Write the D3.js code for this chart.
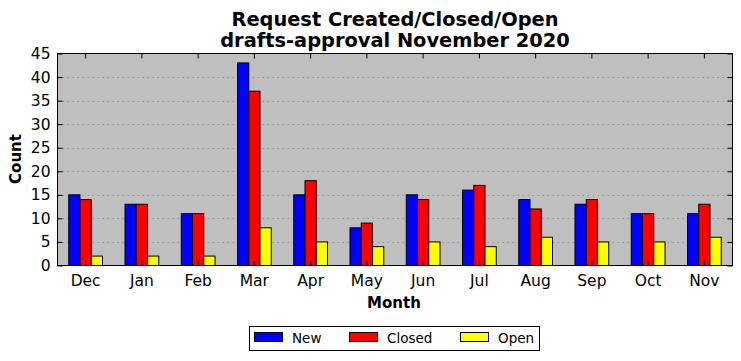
<!DOCTYPE html>
<html><head><meta charset="utf-8">
<script src="https://cdn.jsdelivr.net/npm/d3@7"></script>
<style>body{margin:0;background:#fff}svg{display:block}text{font-family:"DejaVu Sans",sans-serif}</style>
</head><body>
<svg id="c" width="741" height="361"></svg>
<script>
const months = ["Dec","Jan","Feb","Mar","Apr","May","Jun","Jul","Aug","Sep","Oct","Nov"];
const newVals = [15,13,11,43,15,8,15,16,14,13,11,11];
const closedVals = [14,13,11,37,18,9,14,17,12,14,11,13];
const openVals = [2,2,2,8,5,4,5,4,6,5,5,6];
const seriesNames = ["New","Closed","Open"];
const seriesColors = ["#0000ff","#ff0000","#ffff00"];
const yTicks = [0,5,10,15,20,25,30,35,40,45];

const svg = d3.select("#c");
const L = 57.5, R = 732.5, T = 53.5, B = 265.5;
const x = d3.scaleBand().domain(months).range([L, R]).paddingInner(0).paddingOuter(0);
const y = d3.scaleLinear().domain([0,45]).range([B, T]);
const sub = d3.scaleBand().domain(seriesNames).range([0, x.bandwidth()*0.6]);
const off = x.bandwidth()*0.2;

svg.append("rect").attr("x",L).attr("y",T).attr("width",R-L).attr("height",B-T).attr("fill","#bfbfbf");

// grid
svg.append("g").selectAll("line").data(yTicks.filter(d=>d>0&&d<45)).join("line")
  .attr("x1",L).attr("x2",R).attr("y1",d=>Math.round(y(d))+0.5).attr("y2",d=>Math.round(y(d))+0.5)
  .attr("stroke","#888").attr("stroke-width",0.8).attr("stroke-dasharray","1.5,3.5");

const data = [newVals, closedVals, openVals];
seriesNames.forEach((s,i)=>{
  svg.append("g").selectAll("rect").data(months).join("rect")
    .attr("x",(m)=>x(m)+off+sub(s))
    .attr("y",(m,j)=>y(data[i][j]))
    .attr("width",sub.bandwidth())
    .attr("height",(m,j)=>B-y(data[i][j]))
    .attr("fill",seriesColors[i]).attr("stroke","#000").attr("stroke-width",1);
});

// frame
svg.append("rect").attr("x",L).attr("y",T).attr("width",R-L).attr("height",B-T).attr("fill","none").attr("stroke","#000").attr("stroke-width",1);

// axes
const xb = svg.append("g").attr("transform",`translate(0,${B})`).call(d3.axisBottom(x).tickSizeInner(-5).tickSizeOuter(0).tickPadding(9));
const xt = svg.append("g").attr("transform",`translate(0,${T})`).call(d3.axisTop(x).tickSizeInner(-5).tickSizeOuter(0).tickFormat(""));
const yl = svg.append("g").attr("transform",`translate(${L},0)`).call(d3.axisLeft(y).tickValues(yTicks).tickSizeInner(-5).tickSizeOuter(0).tickPadding(7));
const yr = svg.append("g").attr("transform",`translate(${R},0)`).call(d3.axisRight(y).tickValues(yTicks).tickSizeInner(-5).tickSizeOuter(0).tickFormat(""));
[xb,xt,yl,yr].forEach(g=>{g.select(".domain").remove();g.selectAll("line").attr("stroke","#000");g.selectAll("text").attr("font-size",15.5).attr("fill","#000").attr("font-family","DejaVu Sans");});

// titles
svg.append("text").attr("x",395).attr("y",26).attr("text-anchor","middle").attr("font-size",19.4).attr("font-weight","bold").text("Request Created/Closed/Open");
svg.append("text").attr("x",395).attr("y",47).attr("text-anchor","middle").attr("font-size",19.4).attr("font-weight","bold").text("drafts-approval November 2020");
svg.append("text").attr("x",394).attr("y",308).attr("text-anchor","middle").attr("font-size",15).attr("font-weight","bold").text("Month");
svg.append("text").attr("transform","translate(21,159) rotate(-90)").attr("text-anchor","middle").attr("font-size",15).attr("font-weight","bold").text("Count");

// legend
const lg = svg.append("g");
lg.append("rect").attr("x",249.5).attr("y",326.5).attr("width",290).attr("height",24).attr("fill","#fff").attr("stroke","#000");
const lx = [254, 349, 460];
seriesNames.forEach((s,i)=>{
  lg.append("rect").attr("x",lx[i]+0.5).attr("y",332.5).attr("width",28).attr("height",9).attr("fill",seriesColors[i]).attr("stroke","#000");
  lg.append("text").attr("x",lx[i]+38).attr("y",343).attr("font-size",13.5).text(s);
});
</script>
</body></html>
